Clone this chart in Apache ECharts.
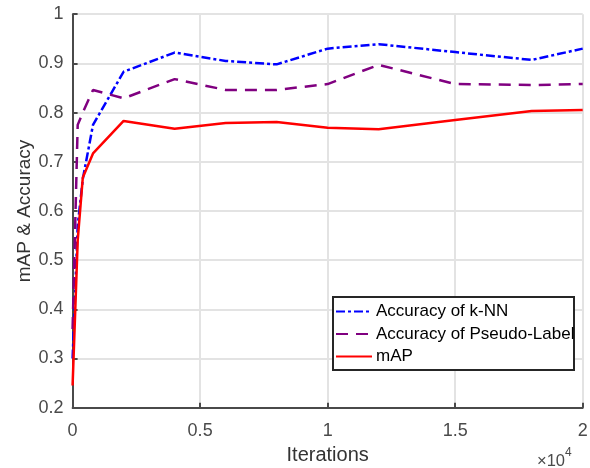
<!DOCTYPE html>
<html>
<head>
<meta charset="utf-8">
<script src="https://cdn.jsdelivr.net/npm/echarts@6/dist/echarts.min.js"></script>
<style>
  html, body { margin: 0; padding: 0; background: #fff; }
  #chart { width: 590px; height: 468px; }
</style>
</head>
<body>
<div id="chart"></div>
<script>
// iterations (x) and the three curves
const iterations = [0, 200, 400, 800, 2000, 4000, 6000, 8000, 10000, 12000, 15000, 18000, 20000]
const knnAcc = [0.30, 0.57, 0.665, 0.775, 0.883, 0.922, 0.905, 0.898, 0.930, 0.939, 0.923, 0.907, 0.930]
const pseudoAcc = [0.36, 0.775, 0.80, 0.846, 0.829, 0.868, 0.846, 0.846, 0.858, 0.897, 0.858, 0.856, 0.858]
const mapVals = [0.245, 0.54, 0.668, 0.717, 0.783, 0.767, 0.779, 0.781, 0.769, 0.766, 0.785, 0.803, 0.805]
const seriesNames = ['Accuracy of k-NN', 'Accuracy of Pseudo-Label', 'mAP']

const pairs = (ys) => iterations.map((x, i) => [x, ys[i]])
const font = 'Liberation Sans, Helvetica, Arial, sans-serif'
const axisGray = '#4a4a4a'

const chart = echarts.init(document.getElementById('chart'))
chart.setOption({
  animation: false,
  textStyle: { fontFamily: font },
  grid: { left: 72.6, right: 7.3, top: 14.2, bottom: 60.3, containLabel: false, outerBoundsMode: 'none' },
  xAxis: {
    type: 'value',
    min: 0,
    max: 20000,
    interval: 5000,
    name: 'Iterations',
    nameLocation: 'middle',
    nameGap: 38,
    nameTextStyle: { color: '#333', fontSize: 20, fontFamily: font },
    axisLine: { show: true, onZero: false, lineStyle: { color: axisGray, width: 2 } },
    axisTick: { show: true, inside: true, length: 5, lineStyle: { color: axisGray, width: 2 } },
    axisLabel: {
      color: axisGray,
      fontSize: 18,
      margin: 14,
      formatter: (v) => String(v / 10000)
    },
    splitLine: { show: true, lineStyle: { color: '#e3e3e3', width: 2 } }
  },
  yAxis: {
    type: 'value',
    min: 0.2,
    max: 1,
    interval: 0.1,
    name: 'mAP & Accuracy',
    nameLocation: 'middle',
    nameGap: 38,
    nameMoveOverlap: false,
    nameTextStyle: { color: '#333', fontSize: 19, fontFamily: font },
    axisLine: { show: true, lineStyle: { color: axisGray, width: 2 } },
    axisTick: { show: true, inside: true, length: 5, lineStyle: { color: axisGray, width: 2 } },
    axisLabel: {
      color: axisGray,
      fontSize: 18,
      margin: 9,
      formatter: (v) => (Math.abs(v - 1) < 1e-6 ? '1' : v.toFixed(1))
    },
    splitLine: { show: true, lineStyle: { color: '#e3e3e3', width: 2 } }
  },
  legend: {
    orient: 'vertical',
    left: 335,
    top: 303,
    itemWidth: 36,
    itemHeight: 16,
    itemGap: 5.5,
    padding: 0,
    itemStyle: { opacity: 0 },
    textStyle: { color: '#000', fontSize: 17, fontFamily: font, padding: [0, 0, 0, -1] },
    data: seriesNames
  },
  graphic: [
    {
      type: 'rect',
      z: 3,
      shape: { x: 333, y: 297, width: 241, height: 73 },
      style: { fill: '#fff', stroke: '#262626', lineWidth: 2 }
    },
    {
      type: 'text',
      left: 537,
      top: 447,
      style: {
        text: '{a|×10}{b|4}',
        rich: {
          a: { fontSize: 16.5, fill: axisGray, fontFamily: font, verticalAlign: 'bottom' },
          b: { fontSize: 12, fill: axisGray, fontFamily: font, verticalAlign: 'top', padding: [0, 0, 11, 0] }
        }
      }
    }
  ],
  series: [
    {
      name: seriesNames[0],
      type: 'line',
      data: pairs(knnAcc),
      symbol: 'none',
      lineStyle: { color: '#0000ff', width: 2.5, type: [9, 3, 3, 3] },
      itemStyle: { color: '#0000ff' }
    },
    {
      name: seriesNames[1],
      type: 'line',
      data: pairs(pseudoAcc),
      symbol: 'none',
      lineStyle: { color: '#800080', width: 2.5, type: [12, 8] },
      itemStyle: { color: '#800080' }
    },
    {
      name: seriesNames[2],
      type: 'line',
      data: pairs(mapVals),
      symbol: 'none',
      lineStyle: { color: '#ff0000', width: 2.5 },
      itemStyle: { color: '#ff0000' }
    }
  ]
})
</script>
</body>
</html>
